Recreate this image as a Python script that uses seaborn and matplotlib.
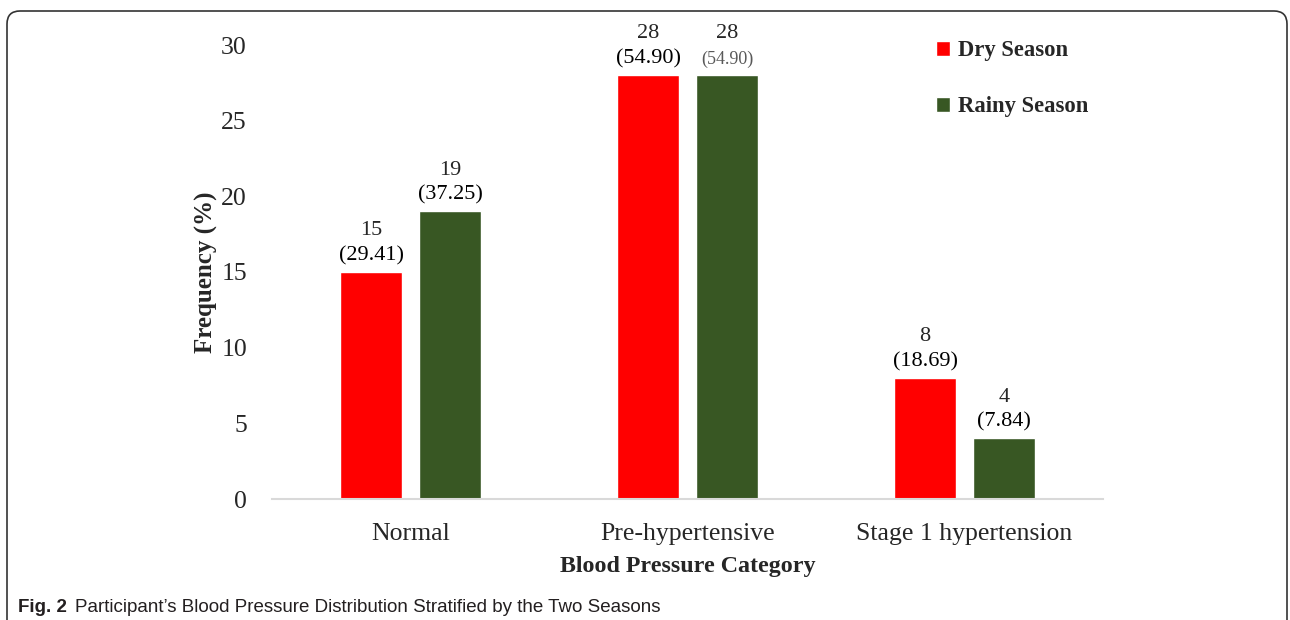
import numpy as np
import pandas as pd
import matplotlib
matplotlib.use('Agg')
import matplotlib.pyplot as plt
from matplotlib.patches import FancyBboxPatch, Patch
import seaborn as sns

CATEGORIES = ['Normal', 'Pre-hypertensive', 'Stage 1 hypertension']
SEASONS = ['Dry Season', 'Rainy Season']
DRY_COUNTS = [15, 28, 8]
RAINY_COUNTS = [19, 28, 4]
DRY_PCT = ['29.41', '54.90', '18.69']
RAINY_PCT = ['37.25', '54.90', '7.84']
COLORS = ['#FF0000', '#385723']

df = pd.DataFrame({
    'category': CATEGORIES * 2,
    'season': [SEASONS[0]] * 3 + [SEASONS[1]] * 3,
    'count': DRY_COUNTS + RAINY_COUNTS,
})
pct = [DRY_PCT, RAINY_PCT]

sns.set_style('white')
plt.rcParams['font.family'] = ['Liberation Serif', 'DejaVu Serif']
CAPTION_FONT = ['Liberation Sans Narrow', 'Liberation Sans', 'DejaVu Sans']

fig = plt.figure(figsize=(12.9, 6.2), dpi=100)
ax = fig.add_axes([272 / 1290, 1 - 499 / 620, 831 / 1290, 454 / 620])

sns.barplot(data=df, x='category', y='count', hue='season', order=CATEGORIES,
            hue_order=SEASONS, palette=COLORS, width=0.57, gap=0.22,
            saturation=1, ax=ax, legend=False)

ax.set_xlim(-0.5, 2.5)
ax.set_ylim(0, 30)
ax.set_yticks(range(0, 31, 5))
ax.tick_params(axis='both', length=0, labelsize=18.5)
ax.tick_params(axis='x', pad=17)
ax.tick_params(axis='y', pad=18)
for side in ['top', 'right', 'left']:
    ax.spines[side].set_visible(False)
ax.spines['bottom'].set_color('#D9D9D9')
ax.spines['bottom'].set_linewidth(1.5)
ax.grid(False)

ax.set_xlabel('Blood Pressure Category', fontsize=17.3, fontweight='bold', labelpad=8)
ax.set_ylabel('Frequency (%)', fontsize=18, fontweight='bold', labelpad=2)

# value labels: count on top, percentage just above the bar
for h, cont in enumerate(ax.containers):
    for i, bar in enumerate(cont):
        x = bar.get_x() + bar.get_width() / 2
        y = bar.get_height()
        small = (h == 1 and i == 1)  # the odd grey label in the original
        ax.annotate(f'({pct[h][i]})', (x, y), xytext=(0, 5), textcoords='offset points',
                    ha='center', va='bottom', fontsize=13 if small else 16,
                    color='#595959' if small else 'black', annotation_clip=False)
        ax.annotate(str(int(y)), (x, y), xytext=(0, 23), textcoords='offset points',
                    ha='center', va='bottom', fontsize=16, annotation_clip=False)

handles = [Patch(facecolor=c) for c in COLORS]
ax.legend(handles, SEASONS, loc='upper left', bbox_to_anchor=(0.775, 1.055),
          frameon=False, handlelength=0.6, handleheight=0.6, handletextpad=0.35,
          labelspacing=1.55, prop={'weight': 'bold', 'size': 16.3})

# rounded frame and caption
frame = FancyBboxPatch((0.07, -0.3), 12.8, 6.39, boxstyle='round,pad=0,rounding_size=0.13',
                       transform=fig.dpi_scale_trans, fill=False, ec='#333333', lw=1.2,
                       clip_on=False)
fig.patches.append(frame)

fig.text(18 / 1290, 1 - 607 / 620, 'Fig. 2', fontsize=13.5, fontweight='bold',
         family=CAPTION_FONT, va='center', color='#231F20')
fig.text(75 / 1290, 1 - 607 / 620,
         'Participant\u2019s Blood Pressure Distribution Stratified by the Two Seasons',
         fontsize=13.5, family=CAPTION_FONT, va='center', color='#231F20')

fig.savefig('out.png', dpi=100)
